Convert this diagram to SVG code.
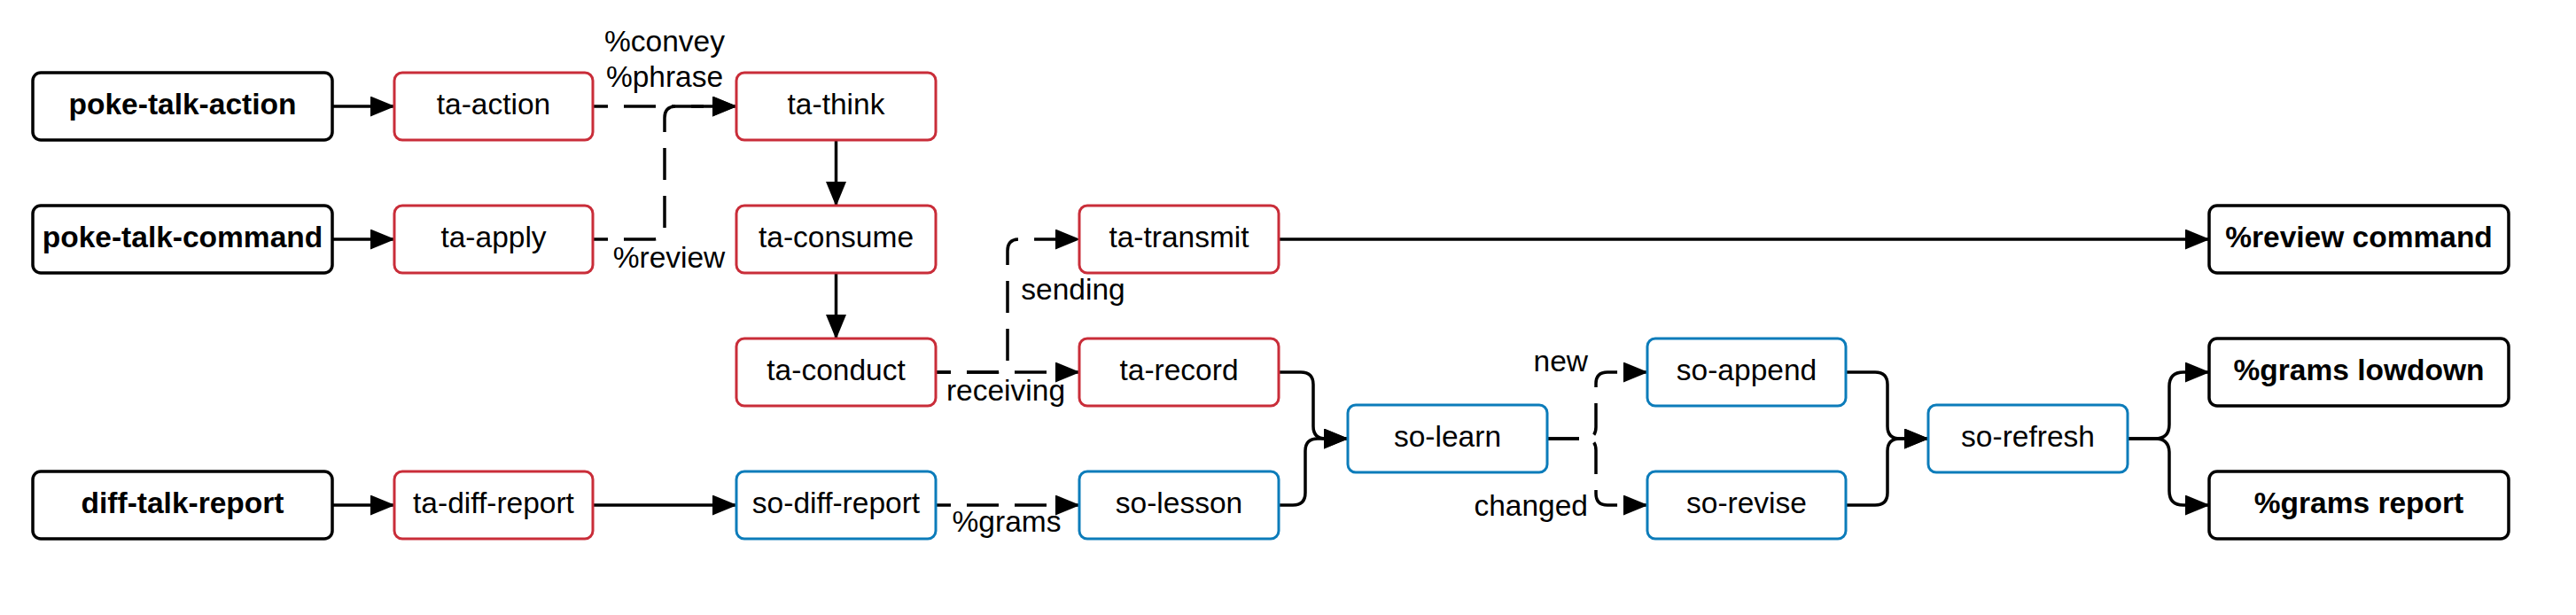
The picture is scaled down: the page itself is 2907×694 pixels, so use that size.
<svg xmlns="http://www.w3.org/2000/svg" width="2907" height="694" viewBox="0 0 2907 694">
<defs>
<marker id="arr" markerUnits="userSpaceOnUse" markerWidth="28" markerHeight="23" viewBox="0 0 28 23" refX="27" refY="11.5" orient="auto">
<path d="M0,0 L28,11.5 L0,23 z" fill="#000"/>
</marker>
<style>
.box{fill:#fff;stroke-width:3}
.blk{stroke:#000;stroke-width:3.5}
.red{stroke:#c92d39}
.blu{stroke:#0c7cba}
.t{font-family:"Liberation Sans",Arial,sans-serif;font-size:33.5px;fill:#000;text-anchor:middle}
.b{font-weight:bold}
.c{fill:none;stroke:#000;stroke-width:3.5;marker-end:url(#arr)}
.d{stroke-dasharray:36 18;stroke-dashoffset:19}
.lbl{font-family:"Liberation Sans",Arial,sans-serif;font-size:33.5px;fill:#000}
</style>
</defs>
<rect width="2907" height="694" fill="#fff"/>
<g id="connectors">
<path class="c" d="M375,120 H445"/>
<path class="c" d="M375,270 H445"/>
<path class="c" d="M375,570 H445"/>
<path class="c d" d="M669,120 H831"/>
<path class="c d" d="M669,270 H737 Q750,270 750,257 V133 Q750,120 763,120 H831"/>
<path class="c" d="M943.5,158 V232"/>
<path class="c" d="M943.5,308 V382"/>
<path class="c d" d="M1056,420 H1218"/>
<path class="c d" d="M1056,420 H1124 Q1137,420 1137,407 V283 Q1137,270 1150,270 H1218"/>
<path class="c" d="M1443,270 H2493"/>
<path class="c" d="M669,570 H831"/>
<path class="c d" d="M1056,570 H1218"/>
<path class="c" d="M1443,420 H1468 Q1482,420 1482,434 V481 Q1482,495 1496,495 H1521"/>
<path class="c" d="M1443,570 H1459 Q1473,570 1473,556 V509 Q1473,495 1487,495 H1521"/>
<path class="c d" style="stroke-dashoffset:0" d="M1746,495 H1788 Q1801,495 1801,482 V433 Q1801,420 1814,420 H1859"/>
<path class="c d" style="stroke-dashoffset:0" d="M1746,495 H1788 Q1801,495 1801,508 V557 Q1801,570 1814,570 H1859"/>
<path class="c" d="M2083,420 H2116 Q2130,420 2130,434 V481 Q2130,495 2144,495 H2176"/>
<path class="c" d="M2083,570 H2116 Q2130,570 2130,556 V509 Q2130,495 2144,495 H2176"/>
<path class="c" d="M2401,495 H2432 Q2448,495 2448,479 V436 Q2448,420 2464,420 H2493"/>
<path class="c" d="M2401,495 H2432 Q2448,495 2448,511 V554 Q2448,570 2464,570 H2493"/>
<text class="lbl" x="750" y="58" text-anchor="middle">%convey</text>
<text class="lbl" x="750" y="98" text-anchor="middle">%phrase</text>
<text class="lbl" x="755" y="302" text-anchor="middle">%review</text>
<text class="lbl" x="1211" y="338" text-anchor="middle">sending</text>
<text class="lbl" x="1135" y="452" text-anchor="middle">receiving</text>
<text class="lbl" x="1136" y="600" text-anchor="middle">%grams</text>
<text class="lbl" x="1792" y="419" text-anchor="end">new</text>
<text class="lbl" x="1792" y="582" text-anchor="end">changed</text>
</g>
<g id="poke-talk-action"><rect class="box blk" x="37" y="82" width="338" height="76" rx="9"/><text class="t b" x="206" y="129">poke-talk-action</text></g>
<g id="poke-talk-command"><rect class="box blk" x="37" y="232" width="338" height="76" rx="9"/><text class="t b" x="206" y="279">poke-talk-command</text></g>
<g id="diff-talk-report"><rect class="box blk" x="37" y="532" width="338" height="76" rx="9"/><text class="t b" x="206" y="579">diff-talk-report</text></g>
<g id="ta-action"><rect class="box red" x="445" y="82" width="224" height="76" rx="9"/><text class="t" x="557" y="129">ta-action</text></g>
<g id="ta-apply"><rect class="box red" x="445" y="232" width="224" height="76" rx="9"/><text class="t" x="557" y="279">ta-apply</text></g>
<g id="ta-diff-report"><rect class="box red" x="445" y="532" width="224" height="76" rx="9"/><text class="t" x="557" y="579">ta-diff-report</text></g>
<g id="ta-think"><rect class="box red" x="831" y="82" width="225" height="76" rx="9"/><text class="t" x="943.5" y="129">ta-think</text></g>
<g id="ta-consume"><rect class="box red" x="831" y="232" width="225" height="76" rx="9"/><text class="t" x="943.5" y="279">ta-consume</text></g>
<g id="ta-conduct"><rect class="box red" x="831" y="382" width="225" height="76" rx="9"/><text class="t" x="943.5" y="429">ta-conduct</text></g>
<g id="so-diff-report"><rect class="box blu" x="831" y="532" width="225" height="76" rx="9"/><text class="t" x="943.5" y="579">so-diff-report</text></g>
<g id="ta-transmit"><rect class="box red" x="1218" y="232" width="225" height="76" rx="9"/><text class="t" x="1330.5" y="279">ta-transmit</text></g>
<g id="ta-record"><rect class="box red" x="1218" y="382" width="225" height="76" rx="9"/><text class="t" x="1330.5" y="429">ta-record</text></g>
<g id="so-lesson"><rect class="box blu" x="1218" y="532" width="225" height="76" rx="9"/><text class="t" x="1330.5" y="579">so-lesson</text></g>
<g id="so-learn"><rect class="box blu" x="1521" y="457" width="225" height="76" rx="9"/><text class="t" x="1633.5" y="504">so-learn</text></g>
<g id="so-append"><rect class="box blu" x="1859" y="382" width="224" height="76" rx="9"/><text class="t" x="1971" y="429">so-append</text></g>
<g id="so-revise"><rect class="box blu" x="1859" y="532" width="224" height="76" rx="9"/><text class="t" x="1971" y="579">so-revise</text></g>
<g id="so-refresh"><rect class="box blu" x="2176" y="457" width="225" height="76" rx="9"/><text class="t" x="2288.5" y="504">so-refresh</text></g>
<g id="review-command"><rect class="box blk" x="2493" y="232" width="338" height="76" rx="9"/><text class="t b" x="2662" y="279">%review command</text></g>
<g id="grams-lowdown"><rect class="box blk" x="2493" y="382" width="338" height="76" rx="9"/><text class="t b" x="2662" y="429">%grams lowdown</text></g>
<g id="grams-report"><rect class="box blk" x="2493" y="532" width="338" height="76" rx="9"/><text class="t b" x="2662" y="579">%grams report</text></g>
</svg>
